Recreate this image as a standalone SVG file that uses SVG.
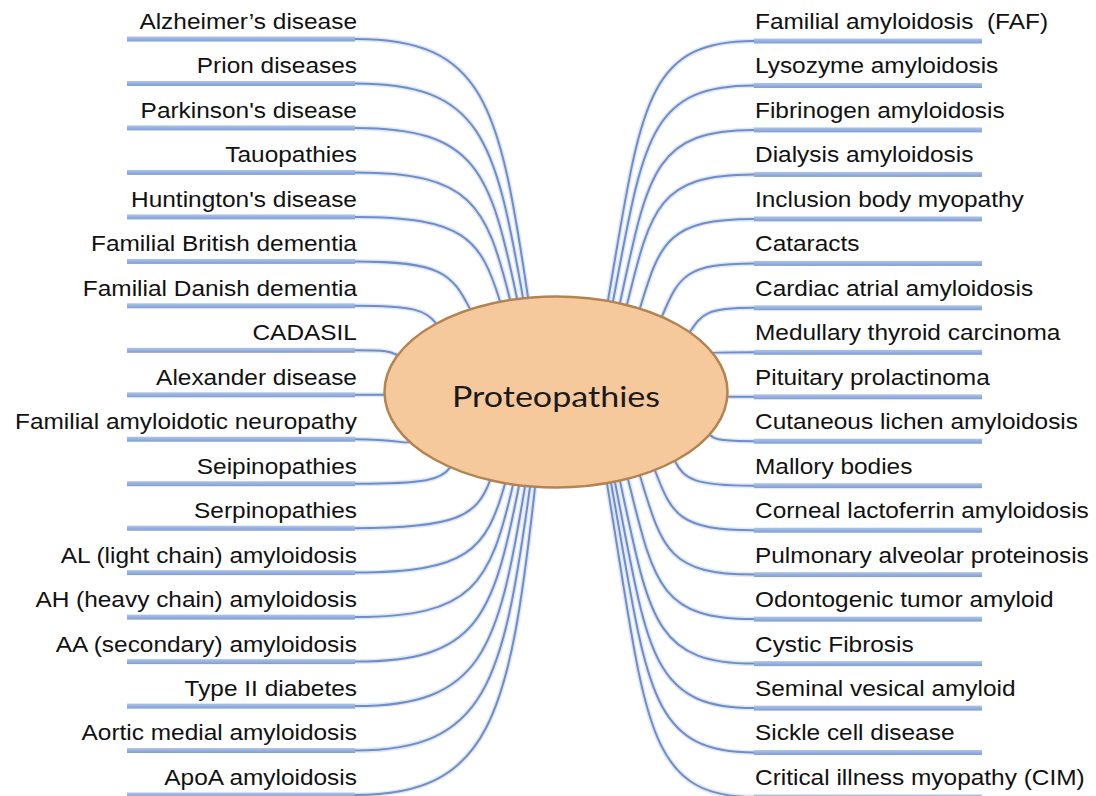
<svg xmlns="http://www.w3.org/2000/svg" width="1096" height="796" viewBox="0 0 1096 796">
<defs>
<linearGradient id="barg" x1="0" y1="0" x2="0" y2="1">
<stop offset="0" stop-color="#aec4ea"/>
<stop offset="1" stop-color="#7f9dd4"/>
</linearGradient>
<style>
.bar{fill:url(#barg);}
.lbl{font-family:"Liberation Sans",Arial,sans-serif;font-size:22px;fill:#111;}
.l{text-anchor:end;}
.glow{fill:none;stroke:#d3def2;stroke-width:5;stroke-opacity:0.7;}
.ln{fill:none;stroke:#6f8dc8;stroke-width:2;}
</style>
</defs>
<rect width="1096" height="796" fill="#fff"/>
<g id="connectors">
<g class="glow">
<path id="p0" d="M355,39 C484.8,39 499.3,103.6 528,297.3"/>
<path id="p1" d="M355,83.5 C481,83.5 494.8,137.1 523,297.8"/>
<path id="p2" d="M355,127.9 C476.5,127.9 490.3,170.5 517,298.5"/>
<path id="p3" d="M355,172.4 C471.3,172.4 486.3,204.2 510,299.5"/>
<path id="p4" d="M355,216.9 C463.8,216.9 480.5,238 500,301.2"/>
<path id="p5" d="M355,261.4 C441.3,261.4 451.6,273.3 470,308.9"/>
<path id="p6" d="M355,305.8 C415.8,305.8 424.6,310.2 436,323.2"/>
<path id="p7" d="M355,350.3 C386.7,350.3 389.8,351.5 397.3,355"/>
<path id="p8" d="M355,394.8 L386,394.8"/>
<path id="p9" d="M355,439.2 C395.7,439.2 406.1,444.1 409.2,442"/>
<path id="p10" d="M355,483.7 C426.3,483.7 441.5,479.7 450,467.6"/>
<path id="p11" d="M355,528.2 C456.3,528.2 476.7,516.3 490,480.7"/>
<path id="p12" d="M355,572.6 C467.5,572.6 486.4,550.4 505,483.7"/>
<path id="p13" d="M355,617.1 C473.5,617.1 490.1,584.1 513,484.9"/>
<path id="p14" d="M355,661.6 C478,661.6 493,617.7 519,485.8"/>
<path id="p15" d="M355,706.1 C482.5,706.1 497.9,651.2 525,486.4"/>
<path id="p16" d="M355,750.5 C486.3,750.5 502.9,684.6 530,486.9"/>
<path id="p17" d="M355,795 C490,795 509.6,718.1 535,487.3"/>
<path id="q0" d="M754,41 C644.5,41 641.2,105.9 608,300.5"/>
<path id="q1" d="M754,85.5 C648.3,85.5 643.6,139.5 613,301.4"/>
<path id="q2" d="M754,129.9 C653.5,129.9 648,173.2 620,302.9"/>
<path id="q3" d="M754,174.4 C658.8,174.4 650.8,207 627,304.6"/>
<path id="q4" d="M754,218.9 C668.5,218.9 660.1,241.2 640,308.2"/>
<path id="q5" d="M754,263.4 C685,263.4 678.7,276.7 662,316.4"/>
<path id="q6" d="M754,307.8 C706,307.8 702,313.8 690,331.8"/>
<path id="q7" d="M754,352.3 C723.4,352.3 713.6,352.5 713.2,353"/>
<path id="q8" d="M754,396.8 L726,396.8"/>
<path id="q9" d="M754,441.2 C721,441.2 715,439.7 710,435"/>
<path id="q10" d="M754,485.7 C694.8,485.7 684.4,479.6 675,461.3"/>
<path id="q11" d="M754,530.2 C679.8,530.2 671.9,515.3 655,470.5"/>
<path id="q12" d="M754,574.6 C668.5,574.6 662.3,549.9 640,475.8"/>
<path id="q13" d="M754,619.1 C659.5,619.1 654,584.1 628,479.2"/>
<path id="q14" d="M754,663.6 C653.5,663.6 649.5,618 620,481.1"/>
<path id="q15" d="M754,708.1 C649.8,708.1 648.2,651.6 615,482.2"/>
<path id="q16" d="M754,752.5 C646.8,752.5 647.6,685.1 611,483"/>
<path id="q17" d="M754,797 C643.8,797 646.2,718.7 607,483.7"/>
</g>
<g class="ln">
<use href="#p0"/><use href="#p1"/><use href="#p2"/><use href="#p3"/><use href="#p4"/><use href="#p5"/>
<use href="#p6"/><use href="#p7"/><use href="#p8"/><use href="#p9"/><use href="#p10"/><use href="#p11"/>
<use href="#p12"/><use href="#p13"/><use href="#p14"/><use href="#p15"/><use href="#p16"/><use href="#p17"/>
<use href="#q0"/><use href="#q1"/><use href="#q2"/><use href="#q3"/><use href="#q4"/><use href="#q5"/>
<use href="#q6"/><use href="#q7"/><use href="#q8"/><use href="#q9"/><use href="#q10"/><use href="#q11"/>
<use href="#q12"/><use href="#q13"/><use href="#q14"/><use href="#q15"/><use href="#q16"/><use href="#q17"/>
</g>
</g>
<g id="center">
<ellipse cx="556" cy="392" rx="171.5" ry="95.5" fill="#f5c99c" stroke="#b38450" stroke-width="2.5"/>
<text x="556" y="407" text-anchor="middle" font-family="Lato,'Open Sans',sans-serif" font-size="29" fill="#1a1a1a" textLength="208" lengthAdjust="spacingAndGlyphs">Proteopathies</text>
</g>
<g id="L0"><rect class="bar" x="127" y="36.5" width="228" height="5"/><text class="lbl l" transform="scale(1.11,1)" x="321.6" y="29">Alzheimer’s disease</text></g>
<g id="L1"><rect class="bar" x="127" y="81" width="228" height="5"/><text class="lbl l" transform="scale(1.11,1)" x="321.6" y="73.5">Prion diseases</text></g>
<g id="L2"><rect class="bar" x="127" y="125.4" width="228" height="5"/><text class="lbl l" transform="scale(1.11,1)" x="321.6" y="117.9">Parkinson's disease</text></g>
<g id="L3"><rect class="bar" x="127" y="169.9" width="228" height="5"/><text class="lbl l" transform="scale(1.11,1)" x="321.6" y="162.4">Tauopathies</text></g>
<g id="L4"><rect class="bar" x="127" y="214.4" width="228" height="5"/><text class="lbl l" transform="scale(1.11,1)" x="321.6" y="206.9">Huntington's disease</text></g>
<g id="L5"><rect class="bar" x="127" y="258.9" width="228" height="5"/><text class="lbl l" transform="scale(1.11,1)" x="321.6" y="251.4">Familial British dementia</text></g>
<g id="L6"><rect class="bar" x="127" y="303.3" width="228" height="5"/><text class="lbl l" transform="scale(1.11,1)" x="321.6" y="295.8">Familial Danish dementia</text></g>
<g id="L7"><rect class="bar" x="127" y="347.8" width="228" height="5"/><text class="lbl l" transform="scale(1.11,1)" x="321.6" y="340.3">CADASIL</text></g>
<g id="L8"><rect class="bar" x="127" y="392.3" width="228" height="5"/><text class="lbl l" transform="scale(1.11,1)" x="321.6" y="384.8">Alexander disease</text></g>
<g id="L9"><rect class="bar" x="127" y="436.7" width="228" height="5"/><text class="lbl l" transform="scale(1.11,1)" x="321.6" y="429.2">Familial amyloidotic neuropathy</text></g>
<g id="L10"><rect class="bar" x="127" y="481.2" width="228" height="5"/><text class="lbl l" transform="scale(1.11,1)" x="321.6" y="473.7">Seipinopathies</text></g>
<g id="L11"><rect class="bar" x="127" y="525.7" width="228" height="5"/><text class="lbl l" transform="scale(1.11,1)" x="321.6" y="518.2">Serpinopathies</text></g>
<g id="L12"><rect class="bar" x="127" y="570.1" width="228" height="5"/><text class="lbl l" transform="scale(1.11,1)" x="321.6" y="562.6">AL (light chain) amyloidosis</text></g>
<g id="L13"><rect class="bar" x="127" y="614.6" width="228" height="5"/><text class="lbl l" transform="scale(1.11,1)" x="321.6" y="607.1">AH (heavy chain) amyloidosis</text></g>
<g id="L14"><rect class="bar" x="127" y="659.1" width="228" height="5"/><text class="lbl l" transform="scale(1.11,1)" x="321.6" y="651.6">AA (secondary) amyloidosis</text></g>
<g id="L15"><rect class="bar" x="127" y="703.6" width="228" height="5"/><text class="lbl l" transform="scale(1.11,1)" x="321.6" y="696.1">Type II diabetes</text></g>
<g id="L16"><rect class="bar" x="127" y="748" width="228" height="5"/><text class="lbl l" transform="scale(1.11,1)" x="321.6" y="740.5">Aortic medial amyloidosis</text></g>
<g id="L17"><rect class="bar" x="127" y="792.5" width="228" height="5"/><text class="lbl l" transform="scale(1.11,1)" x="321.6" y="785">ApoA amyloidosis</text></g>
<g id="R0"><rect class="bar" x="754" y="38.5" width="228" height="5"/><text class="lbl" transform="scale(1.11,1)" x="680.2" y="29" xml:space="preserve">Familial amyloidosis  (FAF)</text></g>
<g id="R1"><rect class="bar" x="754" y="83" width="228" height="5"/><text class="lbl" transform="scale(1.11,1)" x="680.2" y="73.5">Lysozyme amyloidosis</text></g>
<g id="R2"><rect class="bar" x="754" y="127.4" width="228" height="5"/><text class="lbl" transform="scale(1.11,1)" x="680.2" y="117.9">Fibrinogen amyloidosis</text></g>
<g id="R3"><rect class="bar" x="754" y="171.9" width="228" height="5"/><text class="lbl" transform="scale(1.11,1)" x="680.2" y="162.4">Dialysis amyloidosis</text></g>
<g id="R4"><rect class="bar" x="754" y="216.4" width="228" height="5"/><text class="lbl" transform="scale(1.11,1)" x="680.2" y="206.9">Inclusion body myopathy</text></g>
<g id="R5"><rect class="bar" x="754" y="260.9" width="228" height="5"/><text class="lbl" transform="scale(1.11,1)" x="680.2" y="251.4">Cataracts</text></g>
<g id="R6"><rect class="bar" x="754" y="305.3" width="228" height="5"/><text class="lbl" transform="scale(1.11,1)" x="680.2" y="295.8">Cardiac atrial amyloidosis</text></g>
<g id="R7"><rect class="bar" x="754" y="349.8" width="228" height="5"/><text class="lbl" transform="scale(1.11,1)" x="680.2" y="340.3">Medullary thyroid carcinoma</text></g>
<g id="R8"><rect class="bar" x="754" y="394.3" width="228" height="5"/><text class="lbl" transform="scale(1.11,1)" x="680.2" y="384.8">Pituitary prolactinoma</text></g>
<g id="R9"><rect class="bar" x="754" y="438.7" width="228" height="5"/><text class="lbl" transform="scale(1.11,1)" x="680.2" y="429.2">Cutaneous lichen amyloidosis</text></g>
<g id="R10"><rect class="bar" x="754" y="483.2" width="228" height="5"/><text class="lbl" transform="scale(1.11,1)" x="680.2" y="473.7">Mallory bodies</text></g>
<g id="R11"><rect class="bar" x="754" y="527.7" width="228" height="5"/><text class="lbl" transform="scale(1.11,1)" x="680.2" y="518.2">Corneal lactoferrin amyloidosis</text></g>
<g id="R12"><rect class="bar" x="754" y="572.1" width="228" height="5"/><text class="lbl" transform="scale(1.11,1)" x="680.2" y="562.6">Pulmonary alveolar proteinosis</text></g>
<g id="R13"><rect class="bar" x="754" y="616.6" width="228" height="5"/><text class="lbl" transform="scale(1.11,1)" x="680.2" y="607.1">Odontogenic tumor amyloid</text></g>
<g id="R14"><rect class="bar" x="754" y="661.1" width="228" height="5"/><text class="lbl" transform="scale(1.11,1)" x="680.2" y="651.6">Cystic Fibrosis</text></g>
<g id="R15"><rect class="bar" x="754" y="705.6" width="228" height="5"/><text class="lbl" transform="scale(1.11,1)" x="680.2" y="696.1">Seminal vesical amyloid</text></g>
<g id="R16"><rect class="bar" x="754" y="750" width="228" height="5"/><text class="lbl" transform="scale(1.11,1)" x="680.2" y="740.5">Sickle cell disease</text></g>
<g id="R17"><rect class="bar" x="754" y="794.5" width="228" height="5"/><text class="lbl" transform="scale(1.11,1)" x="680.2" y="785">Critical illness myopathy (CIM)</text></g>
</svg>
